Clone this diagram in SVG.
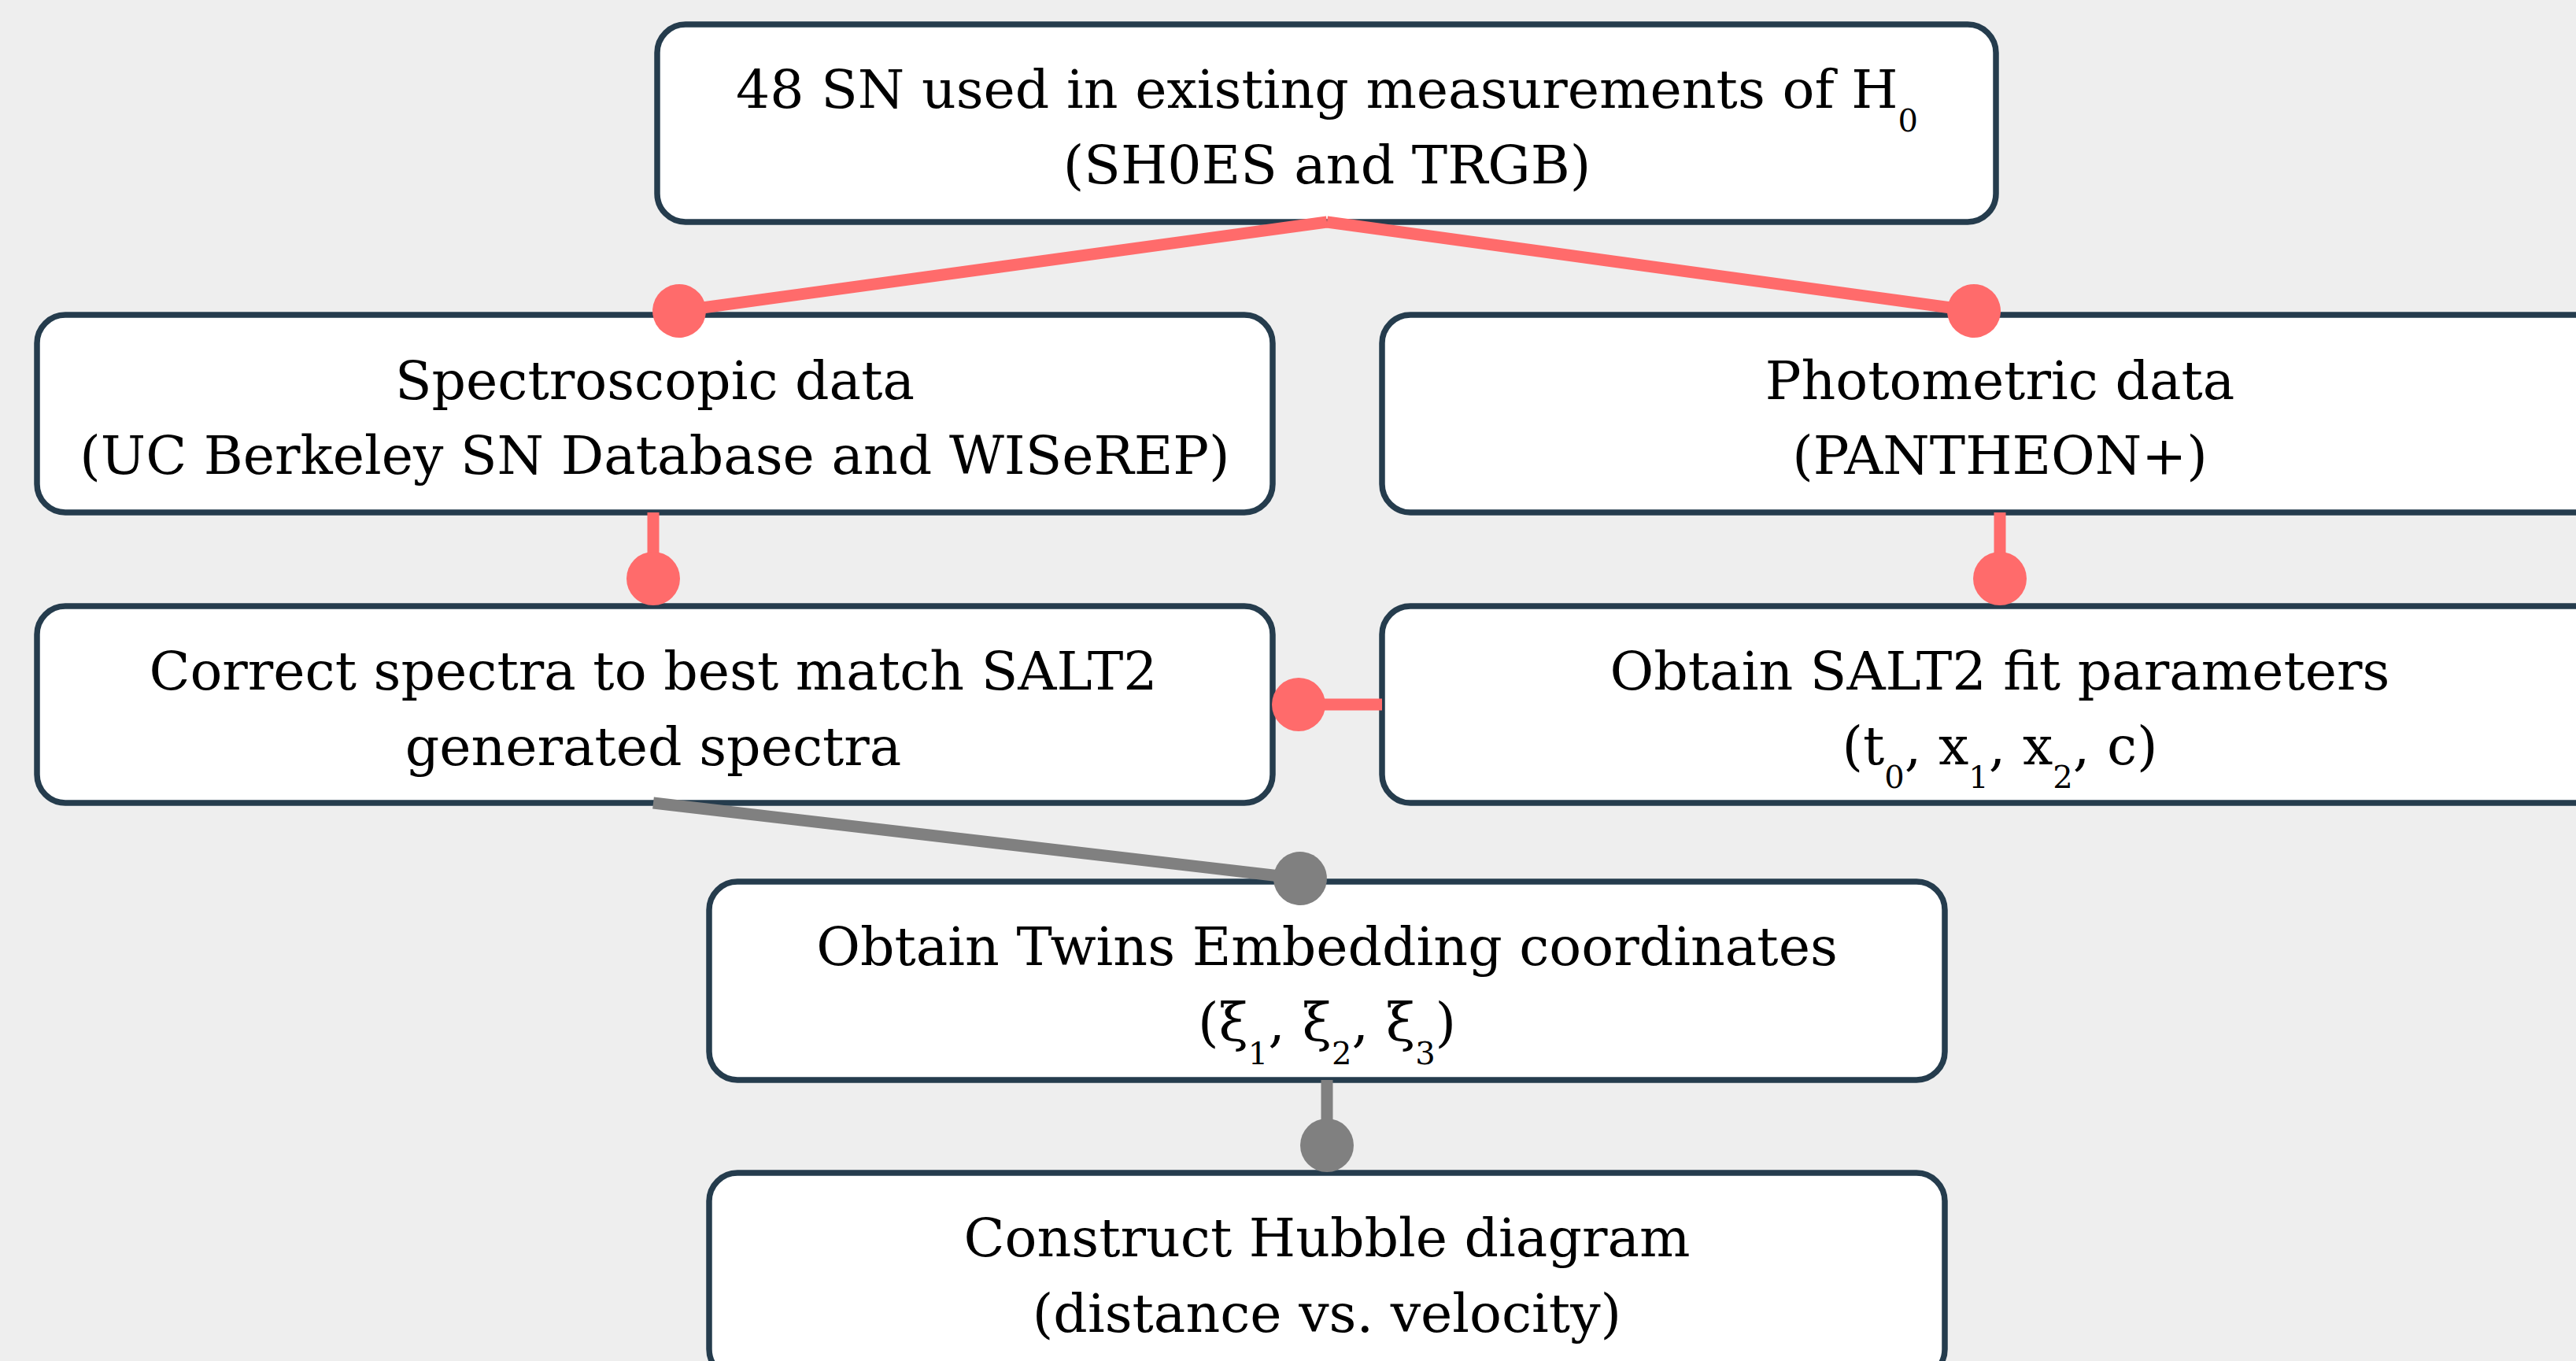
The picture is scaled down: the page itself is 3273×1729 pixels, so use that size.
<svg xmlns="http://www.w3.org/2000/svg" width="3273" height="1729" viewBox="0 0 3273 1729">
<style>
.node rect{fill:#ffffff;stroke:#253C4D;stroke-width:7.5}
.t{font-family:"DejaVu Serif","Liberation Serif",serif;font-size:68px;fill:#000;text-anchor:middle}
.sub{font-size:40px}
.red{stroke:#FF6B6B;stroke-width:15;fill:none;marker-end:url(#dotR)}
.gray{stroke:#808080;stroke-width:15;fill:none;marker-end:url(#dotG)}
</style>
<defs>
<marker id="dotR" markerUnits="userSpaceOnUse" viewBox="-40 -40 80 80" refX="0" refY="0" markerWidth="80" markerHeight="80" orient="auto"><circle r="34" fill="#FF6B6B"/></marker>
<marker id="dotG" markerUnits="userSpaceOnUse" viewBox="-40 -40 80 80" refX="0" refY="0" markerWidth="80" markerHeight="80" orient="auto"><circle r="34" fill="#808080"/></marker>
</defs>
<rect width="3273" height="1729" fill="#EEEEEE"/>
<g id="n-top" class="node"><rect x="835" y="31" width="1701" height="251" rx="36"/>
<text class="t" x="1686" y="137">48 SN used in existing measurements of H<tspan class="sub" dy="30">0</tspan></text>
<text class="t" x="1686" y="233">(SH0ES and TRGB)</text></g>
<g id="n-spec" class="node"><rect x="47" y="400" width="1570" height="251" rx="36"/>
<text class="t" x="832" y="507">Spectroscopic data</text>
<text class="t" x="832" y="602">(UC Berkeley SN Database and WISeREP)</text></g>
<g id="n-phot" class="node"><rect x="1756" y="400" width="1570" height="251" rx="36"/>
<text class="t" x="2541" y="507">Photometric data</text>
<text class="t" x="2541" y="602">(PANTHEON+)</text></g>
<g id="n-corr" class="node"><rect x="47" y="770" width="1570" height="250" rx="36"/>
<text class="t" x="830" y="876">Correct spectra to best match SALT2</text>
<text class="t" x="830" y="972">generated spectra</text></g>
<g id="n-salt" class="node"><rect x="1756" y="770" width="1570" height="250" rx="36"/>
<text class="t" x="2541" y="876">Obtain SALT2 fit parameters</text>
<text class="t" x="2541" y="971">(t<tspan class="sub" dy="30">0</tspan><tspan dy="-30">, x</tspan><tspan class="sub" dy="30">1</tspan><tspan dy="-30">, x</tspan><tspan class="sub" dy="30">2</tspan><tspan dy="-30">, c)</tspan></text></g>
<g id="n-twins" class="node"><rect x="901" y="1120" width="1570" height="252" rx="36"/>
<text class="t" x="1686" y="1226">Obtain Twins Embedding coordinates</text>
<text class="t" x="1686" y="1322">(ξ<tspan class="sub" dy="30">1</tspan><tspan dy="-30">, ξ</tspan><tspan class="sub" dy="30">2</tspan><tspan dy="-30">, ξ</tspan><tspan class="sub" dy="30">3</tspan><tspan dy="-30">)</tspan></text></g>
<g id="n-hubble" class="node"><rect x="901" y="1490" width="1570" height="260" rx="36"/>
<text class="t" x="1686" y="1596">Construct Hubble diagram</text>
<text class="t" x="1686" y="1692">(distance vs. velocity)</text></g>
<g id="connectors">
<line class="red" x1="1686" y1="282" x2="863" y2="395"/>
<line class="red" x1="1686" y1="282" x2="2508" y2="395"/>
<line class="red" x1="830" y1="651" x2="830" y2="735"/>
<line class="red" x1="2541" y1="651" x2="2541" y2="735"/>
<line class="red" x1="1756" y1="895" x2="1650" y2="895"/>
<line class="gray" x1="830" y1="1020" x2="1652" y2="1116"/>
<line class="gray" x1="1686" y1="1372" x2="1686" y2="1455"/>
</g>
</svg>
